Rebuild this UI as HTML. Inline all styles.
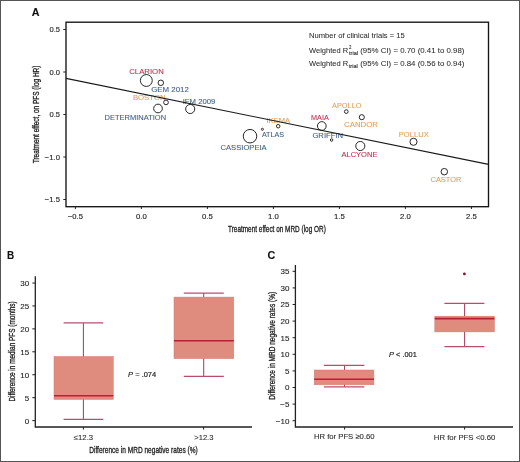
<!DOCTYPE html>
<html><head><meta charset="utf-8"><style>
html,body{margin:0;padding:0;background:#fff;overflow:hidden;width:520px;height:462px;}
svg{display:block;font-family:"Liberation Sans", sans-serif;filter:blur(0.35px);}
</style></head><body>
<svg width="520" height="462" viewBox="0 0 520 462">
<rect x="0.5" y="0.5" width="519" height="461" fill="none" stroke="#555" stroke-width="1"/>
<text x="31.8" y="15.8" font-size="10.8" fill="#111" font-weight="bold" font-style="normal" textLength="7.800000000000001" lengthAdjust="spacingAndGlyphs" stroke="#111" stroke-width="0.1" >A</text>
<rect x="66" y="22.2" width="422.5" height="184.5" fill="none" stroke="#141414" stroke-width="1.35"/>
<line x1="63.3" y1="29.5" x2="66" y2="29.5" stroke="#222" stroke-width="1"/>
<text x="60" y="32.3" font-size="8" fill="#262626" stroke="#262626" stroke-width="0.15" text-anchor="end" textLength="10.5" lengthAdjust="spacingAndGlyphs">0.5</text>
<line x1="63.3" y1="72" x2="66" y2="72" stroke="#222" stroke-width="1"/>
<text x="60" y="74.8" font-size="8" fill="#262626" stroke="#262626" stroke-width="0.15" text-anchor="end" textLength="10.5" lengthAdjust="spacingAndGlyphs">0.0</text>
<line x1="63.3" y1="114.5" x2="66" y2="114.5" stroke="#222" stroke-width="1"/>
<text x="60" y="117.3" font-size="8" fill="#262626" stroke="#262626" stroke-width="0.15" text-anchor="end" textLength="10.5" lengthAdjust="spacingAndGlyphs">0.5</text>
<line x1="63.3" y1="157" x2="66" y2="157" stroke="#222" stroke-width="1"/>
<text x="60" y="159.8" font-size="8" fill="#262626" stroke="#262626" stroke-width="0.15" text-anchor="end" textLength="15.2" lengthAdjust="spacingAndGlyphs">−1.0</text>
<line x1="63.3" y1="199.5" x2="66" y2="199.5" stroke="#222" stroke-width="1"/>
<text x="60" y="202.3" font-size="8" fill="#262626" stroke="#262626" stroke-width="0.15" text-anchor="end" textLength="15.2" lengthAdjust="spacingAndGlyphs">−1.5</text>
<line x1="75.4" y1="206.5" x2="75.4" y2="209" stroke="#222" stroke-width="1"/>
<text x="75.4" y="219.1" font-size="8" fill="#262626" stroke="#262626" stroke-width="0.15" text-anchor="middle" textLength="15" lengthAdjust="spacingAndGlyphs">−0.5</text>
<line x1="141.4" y1="206.5" x2="141.4" y2="209" stroke="#222" stroke-width="1"/>
<text x="141.4" y="219.1" font-size="8" fill="#262626" stroke="#262626" stroke-width="0.15" text-anchor="middle" textLength="10.8" lengthAdjust="spacingAndGlyphs">0.0</text>
<line x1="207.4" y1="206.5" x2="207.4" y2="209" stroke="#222" stroke-width="1"/>
<text x="207.4" y="219.1" font-size="8" fill="#262626" stroke="#262626" stroke-width="0.15" text-anchor="middle" textLength="10.8" lengthAdjust="spacingAndGlyphs">0.5</text>
<line x1="273.4" y1="206.5" x2="273.4" y2="209" stroke="#222" stroke-width="1"/>
<text x="273.4" y="219.1" font-size="8" fill="#262626" stroke="#262626" stroke-width="0.15" text-anchor="middle" textLength="10.8" lengthAdjust="spacingAndGlyphs">1.0</text>
<line x1="339.4" y1="206.5" x2="339.4" y2="209" stroke="#222" stroke-width="1"/>
<text x="339.4" y="219.1" font-size="8" fill="#262626" stroke="#262626" stroke-width="0.15" text-anchor="middle" textLength="10.8" lengthAdjust="spacingAndGlyphs">1.5</text>
<line x1="405.4" y1="206.5" x2="405.4" y2="209" stroke="#222" stroke-width="1"/>
<text x="405.4" y="219.1" font-size="8" fill="#262626" stroke="#262626" stroke-width="0.15" text-anchor="middle" textLength="10.8" lengthAdjust="spacingAndGlyphs">2.0</text>
<line x1="471.4" y1="206.5" x2="471.4" y2="209" stroke="#222" stroke-width="1"/>
<text x="471.4" y="219.1" font-size="8" fill="#262626" stroke="#262626" stroke-width="0.15" text-anchor="middle" textLength="10.8" lengthAdjust="spacingAndGlyphs">2.5</text>
<text x="228" y="231.6" font-size="9.3" fill="#222" font-weight="normal" font-style="normal" textLength="97.80000000000001" lengthAdjust="spacingAndGlyphs" stroke="#222" stroke-width="0.32" >Treatment effect on MRD (log OR)</text>
<g transform="translate(39.4,163.3) rotate(-90)">
<text x="0" y="0" font-size="8.9" fill="#222" font-weight="normal" font-style="normal" textLength="97.7" lengthAdjust="spacingAndGlyphs" stroke="#222" stroke-width="0.32" >Treatment effect, on PFS (log HR)</text>
</g>
<text x="309" y="37.9" font-size="7.9" fill="#2a2a2a" font-weight="normal" font-style="normal" textLength="95.80000000000001" lengthAdjust="spacingAndGlyphs" stroke="#2a2a2a" stroke-width="0.05" >Number of clinical trials = 15</text>
<text x="309" y="52.5" font-size="7.9" fill="#2a2a2a" font-weight="normal" font-style="normal" textLength="39.10000000000002" lengthAdjust="spacingAndGlyphs" stroke="#2a2a2a" stroke-width="0.05" >Weighted R</text>
<text x="349.1" y="48.5" font-size="5.5" fill="#2a2a2a" font-weight="normal" font-style="normal" textLength="2.3999999999999773" lengthAdjust="spacingAndGlyphs" stroke="#2a2a2a" stroke-width="0.1" >2</text>
<text x="349" y="54.8" font-size="5" fill="#2a2a2a" font-weight="normal" font-style="normal" textLength="9" lengthAdjust="spacingAndGlyphs" stroke="#2a2a2a" stroke-width="0.1" >trial</text>
<text x="360.2" y="52.5" font-size="7.9" fill="#2a2a2a" font-weight="normal" font-style="normal" textLength="104.19999999999999" lengthAdjust="spacingAndGlyphs" stroke="#2a2a2a" stroke-width="0.05" >(95% CI) = 0.70 (0.41 to 0.98)</text>
<text x="309" y="65.8" font-size="7.9" fill="#2a2a2a" font-weight="normal" font-style="normal" textLength="39.10000000000002" lengthAdjust="spacingAndGlyphs" stroke="#2a2a2a" stroke-width="0.05" >Weighted R</text>
<text x="348.7" y="67.9" font-size="5" fill="#2a2a2a" font-weight="normal" font-style="normal" textLength="9.100000000000023" lengthAdjust="spacingAndGlyphs" stroke="#2a2a2a" stroke-width="0.1" >trial</text>
<text x="360.2" y="65.8" font-size="7.9" fill="#2a2a2a" font-weight="normal" font-style="normal" textLength="104.19999999999999" lengthAdjust="spacingAndGlyphs" stroke="#2a2a2a" stroke-width="0.05" >(95% CI) = 0.84 (0.56 to 0.94)</text>
<circle cx="146.3" cy="80.5" r="5.95" fill="none" stroke="#262626" stroke-width="1.0"/>
<circle cx="160.8" cy="82.8" r="2.75" fill="none" stroke="#262626" stroke-width="1.0"/>
<circle cx="166" cy="102.4" r="2.35" fill="none" stroke="#262626" stroke-width="1.0"/>
<circle cx="158" cy="108.5" r="4.35" fill="none" stroke="#262626" stroke-width="1.0"/>
<circle cx="190.2" cy="109" r="4.55" fill="none" stroke="#262626" stroke-width="1.0"/>
<circle cx="250" cy="136.2" r="6.75" fill="none" stroke="#262626" stroke-width="1.0"/>
<circle cx="278.2" cy="126.2" r="1.75" fill="none" stroke="#262626" stroke-width="1.0"/>
<circle cx="262.4" cy="129.3" r="1.05" fill="none" stroke="#262626" stroke-width="1.0"/>
<circle cx="321.8" cy="126" r="4.35" fill="none" stroke="#262626" stroke-width="1.0"/>
<circle cx="331.6" cy="140" r="1.25" fill="none" stroke="#262626" stroke-width="1.0"/>
<circle cx="346.3" cy="111.6" r="1.85" fill="none" stroke="#262626" stroke-width="1.0"/>
<circle cx="361.8" cy="117.2" r="2.55" fill="none" stroke="#262626" stroke-width="1.0"/>
<circle cx="360.3" cy="146" r="4.55" fill="none" stroke="#262626" stroke-width="1.0"/>
<circle cx="413.5" cy="141.8" r="3.55" fill="none" stroke="#262626" stroke-width="1.0"/>
<circle cx="444.3" cy="171.7" r="3.25" fill="none" stroke="#262626" stroke-width="1.0"/>
<text x="129.2" y="73.5" font-size="7.9" fill="#c0304f" font-weight="normal" font-style="normal" textLength="34.60000000000002" lengthAdjust="spacingAndGlyphs" stroke="#c0304f" stroke-width="0.1" >CLARION</text>
<text x="151.2" y="92" font-size="7.9" fill="#3f5f8a" font-weight="normal" font-style="normal" textLength="37.70000000000002" lengthAdjust="spacingAndGlyphs" stroke="#3f5f8a" stroke-width="0.1" >GEM 2012</text>
<text x="132.9" y="99.5" font-size="7.9" fill="#e0a159" font-weight="normal" font-style="normal" textLength="32.69999999999999" lengthAdjust="spacingAndGlyphs" stroke="#e0a159" stroke-width="0.1" >BOSTON</text>
<text x="182.7" y="103.5" font-size="7.9" fill="#3f5f8a" font-weight="normal" font-style="normal" textLength="32.70000000000002" lengthAdjust="spacingAndGlyphs" stroke="#3f5f8a" stroke-width="0.1" >IFM 2009</text>
<text x="104.6" y="119.6" font-size="7.9" fill="#3f5f8a" font-weight="normal" font-style="normal" textLength="61.5" lengthAdjust="spacingAndGlyphs" stroke="#3f5f8a" stroke-width="0.1" >DETERMINATION</text>
<text x="220.5" y="150.2" font-size="7.9" fill="#3f5f8a" font-weight="normal" font-style="normal" textLength="46.19999999999999" lengthAdjust="spacingAndGlyphs" stroke="#3f5f8a" stroke-width="0.1" >CASSIOPEIA</text>
<text x="266.5" y="123.1" font-size="7.9" fill="#e0a159" font-weight="normal" font-style="normal" textLength="23.600000000000023" lengthAdjust="spacingAndGlyphs" stroke="#e0a159" stroke-width="0.1" >IKEMA</text>
<text x="261.9" y="136.7" font-size="7.9" fill="#3f5f8a" font-weight="normal" font-style="normal" textLength="22.100000000000023" lengthAdjust="spacingAndGlyphs" stroke="#3f5f8a" stroke-width="0.1" >ATLAS</text>
<text x="311.1" y="120.2" font-size="7.9" fill="#c0304f" font-weight="normal" font-style="normal" textLength="17.69999999999999" lengthAdjust="spacingAndGlyphs" stroke="#c0304f" stroke-width="0.1" >MAIA</text>
<text x="312.4" y="137.7" font-size="7.9" fill="#3f5f8a" font-weight="normal" font-style="normal" textLength="30.700000000000045" lengthAdjust="spacingAndGlyphs" stroke="#3f5f8a" stroke-width="0.1" >GRIFFIN</text>
<text x="332.1" y="108.3" font-size="7.9" fill="#e0a159" font-weight="normal" font-style="normal" textLength="29.299999999999955" lengthAdjust="spacingAndGlyphs" stroke="#e0a159" stroke-width="0.1" >APOLLO</text>
<text x="344.1" y="126.7" font-size="7.9" fill="#e0a159" font-weight="normal" font-style="normal" textLength="33.799999999999955" lengthAdjust="spacingAndGlyphs" stroke="#e0a159" stroke-width="0.1" >CANDOR</text>
<text x="341.5" y="156.5" font-size="7.9" fill="#c0304f" font-weight="normal" font-style="normal" textLength="35.89999999999998" lengthAdjust="spacingAndGlyphs" stroke="#c0304f" stroke-width="0.1" >ALCYONE</text>
<text x="398.8" y="136.7" font-size="7.9" fill="#e0a159" font-weight="normal" font-style="normal" textLength="29.899999999999977" lengthAdjust="spacingAndGlyphs" stroke="#e0a159" stroke-width="0.1" >POLLUX</text>
<text x="430.6" y="181.6" font-size="7.9" fill="#e0a159" font-weight="normal" font-style="normal" textLength="30.69999999999999" lengthAdjust="spacingAndGlyphs" stroke="#e0a159" stroke-width="0.1" >CASTOR</text>
<line x1="66" y1="78.4" x2="488.5" y2="164.4" stroke="#1a1a1a" stroke-width="1.15"/>
<text x="7.1" y="259.2" font-size="10.8" fill="#111" font-weight="bold" font-style="normal" textLength="7.200000000000001" lengthAdjust="spacingAndGlyphs" stroke="#111" stroke-width="0.1" >B</text>
<polyline points="35.3,276.2 35.3,427 252,427" fill="none" stroke="#222" stroke-width="1.3"/>
<line x1="32.3" y1="420.60" x2="35.3" y2="420.60" stroke="#222" stroke-width="1"/>
<text x="29.2" y="423.50" font-size="8" fill="#262626" stroke="#262626" stroke-width="0.12" text-anchor="end">0</text>
<line x1="32.3" y1="397.67" x2="35.3" y2="397.67" stroke="#222" stroke-width="1"/>
<text x="29.2" y="400.57" font-size="8" fill="#262626" stroke="#262626" stroke-width="0.12" text-anchor="end">5</text>
<line x1="32.3" y1="374.74" x2="35.3" y2="374.74" stroke="#222" stroke-width="1"/>
<text x="29.2" y="377.64" font-size="8" fill="#262626" stroke="#262626" stroke-width="0.12" text-anchor="end">10</text>
<line x1="32.3" y1="351.81" x2="35.3" y2="351.81" stroke="#222" stroke-width="1"/>
<text x="29.2" y="354.71" font-size="8" fill="#262626" stroke="#262626" stroke-width="0.12" text-anchor="end">15</text>
<line x1="32.3" y1="328.88" x2="35.3" y2="328.88" stroke="#222" stroke-width="1"/>
<text x="29.2" y="331.78" font-size="8" fill="#262626" stroke="#262626" stroke-width="0.12" text-anchor="end">20</text>
<line x1="32.3" y1="305.95" x2="35.3" y2="305.95" stroke="#222" stroke-width="1"/>
<text x="29.2" y="308.85" font-size="8" fill="#262626" stroke="#262626" stroke-width="0.12" text-anchor="end">25</text>
<line x1="32.3" y1="283.02" x2="35.3" y2="283.02" stroke="#222" stroke-width="1"/>
<text x="29.2" y="285.92" font-size="8" fill="#262626" stroke="#262626" stroke-width="0.12" text-anchor="end">30</text>
<line x1="83.4" y1="427" x2="83.4" y2="429.6" stroke="#222" stroke-width="1"/>
<line x1="203.6" y1="427" x2="203.6" y2="429.6" stroke="#222" stroke-width="1"/>
<text x="73.8" y="439.9" font-size="7.2" fill="#2a2a2a" font-weight="normal" font-style="normal" textLength="19.299999999999997" lengthAdjust="spacingAndGlyphs" stroke="#2a2a2a" stroke-width="0.1" >≤12.3</text>
<text x="194.2" y="440.1" font-size="7.2" fill="#2a2a2a" font-weight="normal" font-style="normal" textLength="19.30000000000001" lengthAdjust="spacingAndGlyphs" stroke="#2a2a2a" stroke-width="0.1" >&gt;12.3</text>
<text x="89.2" y="453.2" font-size="9.3" fill="#222" font-weight="normal" font-style="normal" textLength="108.49999999999999" lengthAdjust="spacingAndGlyphs" stroke="#222" stroke-width="0.32" >Difference in MRD negative rates (%)</text>
<g transform="translate(14.5,401.6) rotate(-90)">
<text x="0" y="0" font-size="9.3" fill="#222" font-weight="normal" font-style="normal" textLength="100.3" lengthAdjust="spacingAndGlyphs" stroke="#222" stroke-width="0.32" >Difference in median PFS (months)</text>
</g>
<line x1="83.4" y1="322.9" x2="83.4" y2="419.4" stroke="#a4445f" stroke-width="1.05"/>
<line x1="63.6" y1="322.9" x2="103.3" y2="322.9" stroke="#bb4d6c" stroke-width="1.2"/>
<line x1="63.6" y1="419.4" x2="103.3" y2="419.4" stroke="#bb4d6c" stroke-width="1.2"/>
<rect x="54" y="356.5" width="59.3" height="42.89999999999998" fill="#df8b7e" stroke="#d47c72" stroke-width="0.5"/>
<line x1="54.3" y1="395.7" x2="113.0" y2="395.7" stroke="#ee8585" stroke-width="3.6"/>
<line x1="54" y1="395.7" x2="113.3" y2="395.7" stroke="#b5212f" stroke-width="1.6"/>
<line x1="203.7" y1="293.1" x2="203.7" y2="376.3" stroke="#a4445f" stroke-width="1.05"/>
<line x1="183.8" y1="293.1" x2="223.8" y2="293.1" stroke="#bb4d6c" stroke-width="1.2"/>
<line x1="183.8" y1="376.3" x2="223.8" y2="376.3" stroke="#bb4d6c" stroke-width="1.2"/>
<rect x="174" y="297.1" width="59.80000000000001" height="61.5" fill="#df8b7e" stroke="#d47c72" stroke-width="0.5"/>
<line x1="174.3" y1="340.8" x2="233.5" y2="340.8" stroke="#ee8585" stroke-width="3.6"/>
<line x1="174" y1="340.8" x2="233.8" y2="340.8" stroke="#b5212f" stroke-width="1.6"/>
<text x="128.1" y="377.3" font-size="8" fill="#222" font-weight="normal" font-style="normal" textLength="28.099999999999994" lengthAdjust="spacingAndGlyphs" stroke="#222" stroke-width="0.2" ><tspan font-style="italic">P</tspan> = .074</text>
<text x="267.5" y="259.2" font-size="10.8" fill="#111" font-weight="bold" font-style="normal" textLength="7.800000000000011" lengthAdjust="spacingAndGlyphs" stroke="#111" stroke-width="0.1" >C</text>
<polyline points="295.4,265.1 295.4,427 513,427" fill="none" stroke="#222" stroke-width="1.3"/>
<line x1="292.6" y1="271.30" x2="295.4" y2="271.30" stroke="#222" stroke-width="1"/>
<text x="289.4" y="274.20" font-size="8" fill="#262626" stroke="#262626" stroke-width="0.12" text-anchor="end">35</text>
<line x1="292.6" y1="287.90" x2="295.4" y2="287.90" stroke="#222" stroke-width="1"/>
<text x="289.4" y="290.80" font-size="8" fill="#262626" stroke="#262626" stroke-width="0.12" text-anchor="end">30</text>
<line x1="292.6" y1="304.50" x2="295.4" y2="304.50" stroke="#222" stroke-width="1"/>
<text x="289.4" y="307.40" font-size="8" fill="#262626" stroke="#262626" stroke-width="0.12" text-anchor="end">25</text>
<line x1="292.6" y1="321.10" x2="295.4" y2="321.10" stroke="#222" stroke-width="1"/>
<text x="289.4" y="324.00" font-size="8" fill="#262626" stroke="#262626" stroke-width="0.12" text-anchor="end">20</text>
<line x1="292.6" y1="337.70" x2="295.4" y2="337.70" stroke="#222" stroke-width="1"/>
<text x="289.4" y="340.60" font-size="8" fill="#262626" stroke="#262626" stroke-width="0.12" text-anchor="end">15</text>
<line x1="292.6" y1="354.30" x2="295.4" y2="354.30" stroke="#222" stroke-width="1"/>
<text x="289.4" y="357.20" font-size="8" fill="#262626" stroke="#262626" stroke-width="0.12" text-anchor="end">10</text>
<line x1="292.6" y1="370.90" x2="295.4" y2="370.90" stroke="#222" stroke-width="1"/>
<text x="289.4" y="373.80" font-size="8" fill="#262626" stroke="#262626" stroke-width="0.12" text-anchor="end">5</text>
<line x1="292.6" y1="387.50" x2="295.4" y2="387.50" stroke="#222" stroke-width="1"/>
<text x="289.4" y="390.40" font-size="8" fill="#262626" stroke="#262626" stroke-width="0.12" text-anchor="end">0</text>
<line x1="292.6" y1="404.10" x2="295.4" y2="404.10" stroke="#222" stroke-width="1"/>
<text x="289.4" y="407.00" font-size="8" fill="#262626" stroke="#262626" stroke-width="0.12" text-anchor="end">−5</text>
<line x1="292.6" y1="420.70" x2="295.4" y2="420.70" stroke="#222" stroke-width="1"/>
<text x="289.4" y="423.60" font-size="8" fill="#262626" stroke="#262626" stroke-width="0.12" text-anchor="end">−10</text>
<line x1="344.6" y1="427" x2="344.6" y2="429.6" stroke="#222" stroke-width="1"/>
<line x1="464.6" y1="427" x2="464.6" y2="429.6" stroke="#222" stroke-width="1"/>
<text x="313.9" y="439.4" font-size="7.6" fill="#2a2a2a" font-weight="normal" font-style="normal" textLength="60.700000000000045" lengthAdjust="spacingAndGlyphs" stroke="#2a2a2a" stroke-width="0.1" >HR for PFS ≥0.60</text>
<text x="433.8" y="439.6" font-size="7.6" fill="#2a2a2a" font-weight="normal" font-style="normal" textLength="61.5" lengthAdjust="spacingAndGlyphs" stroke="#2a2a2a" stroke-width="0.1" >HR for PFS &lt;0.60</text>
<g transform="translate(275,399.7) rotate(-90)">
<text x="0" y="0" font-size="9.3" fill="#222" font-weight="normal" font-style="normal" textLength="107.8" lengthAdjust="spacingAndGlyphs" stroke="#222" stroke-width="0.32" >Difference in MRD negative rates (%)</text>
</g>
<line x1="344.5" y1="365.4" x2="344.5" y2="386.9" stroke="#a4445f" stroke-width="1.05"/>
<line x1="323.8" y1="365.4" x2="364.4" y2="365.4" stroke="#bb4d6c" stroke-width="1.2"/>
<line x1="323.8" y1="386.9" x2="364.4" y2="386.9" stroke="#bb4d6c" stroke-width="1.2"/>
<rect x="314.2" y="370" width="59.69999999999999" height="14.800000000000011" fill="#df8b7e" stroke="#d47c72" stroke-width="0.5"/>
<line x1="314.5" y1="379.2" x2="373.59999999999997" y2="379.2" stroke="#ee8585" stroke-width="3.6"/>
<line x1="314.2" y1="379.2" x2="373.9" y2="379.2" stroke="#b5212f" stroke-width="1.6"/>
<line x1="464.6" y1="303.3" x2="464.6" y2="346.6" stroke="#a4445f" stroke-width="1.05"/>
<line x1="444.4" y1="303.3" x2="484.4" y2="303.3" stroke="#bb4d6c" stroke-width="1.2"/>
<line x1="444.4" y1="346.6" x2="484.4" y2="346.6" stroke="#bb4d6c" stroke-width="1.2"/>
<rect x="434.8" y="316.2" width="59.599999999999966" height="15.699999999999989" fill="#df8b7e" stroke="#d47c72" stroke-width="0.5"/>
<line x1="435.1" y1="318.6" x2="494.09999999999997" y2="318.6" stroke="#ee8585" stroke-width="3.6"/>
<line x1="434.8" y1="318.6" x2="494.4" y2="318.6" stroke="#b5212f" stroke-width="1.6"/>
<circle cx="464.4" cy="273.9" r="1.4" fill="#8b1025"/>
<text x="389.1" y="357.1" font-size="8" fill="#222" font-weight="normal" font-style="normal" textLength="27.69999999999999" lengthAdjust="spacingAndGlyphs" stroke="#222" stroke-width="0.2" ><tspan font-style="italic">P</tspan> &lt; .001</text>
</svg>
</body></html>
